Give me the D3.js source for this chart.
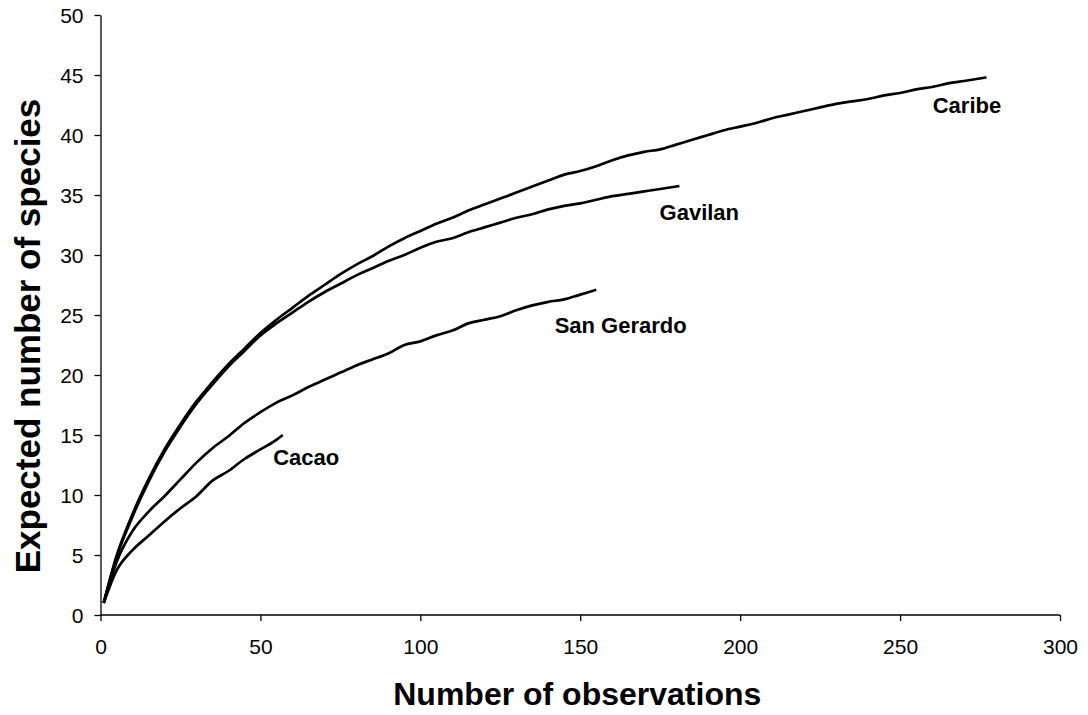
<!DOCTYPE html>
<html>
<head>
<meta charset="utf-8">
<script src="https://cdn.jsdelivr.net/npm/d3@7"></script>
<style>
  body { margin: 0; background: #fff; }
  svg { font-family: Arial, "Liberation Sans", sans-serif; }
  .axis path, .axis line { stroke: #000; stroke-width: 1.3; }
  .axis text { font-size: 21px; fill: #000; }
</style>
</head>
<body>
<div id="chart"></div>
<script>
// Rarefaction curves
const caribeX = [1, 5, 10, 15, 20, 25, 30, 35, 40, 45, 50, 55, 60, 65, 70, 75, 80, 85, 90, 95, 100, 105, 110, 115, 120, 125, 130, 135, 140, 145, 150, 155, 160, 165, 170, 175, 180, 185, 190, 195, 200, 205, 210, 215, 220, 225, 230, 235, 240, 245, 250, 255, 260, 265, 270, 277];
const caribeY = [1, 4.9, 8.4, 11.3, 13.8, 15.9, 17.8, 19.4, 20.9, 22.2, 23.5, 24.6, 25.6, 26.6, 27.5, 28.4, 29.2, 29.9, 30.7, 31.4, 32.0, 32.6, 33.1, 33.7, 34.2, 34.7, 35.2, 35.7, 36.2, 36.7, 37.0, 37.4, 37.9, 38.3, 38.6, 38.8, 39.2, 39.6, 40.0, 40.4, 40.7, 41.0, 41.4, 41.7, 42.0, 42.3, 42.6, 42.8, 43.0, 43.3, 43.5, 43.8, 44.0, 44.3, 44.5, 44.8];

const gavilanX = [1, 5, 10, 15, 20, 25, 30, 35, 40, 45, 50, 55, 60, 65, 70, 75, 80, 85, 90, 95, 100, 105, 110, 115, 120, 125, 130, 135, 140, 145, 150, 155, 160, 165, 170, 175, 181];
const gavilanY = [1, 4.8, 8.2, 11.1, 13.6, 15.7, 17.6, 19.2, 20.7, 22.0, 23.3, 24.3, 25.2, 26.1, 26.9, 27.6, 28.3, 28.9, 29.5, 30.0, 30.6, 31.1, 31.4, 31.9, 32.3, 32.7, 33.1, 33.4, 33.8, 34.1, 34.3, 34.6, 34.9, 35.1, 35.3, 35.5, 35.75];

const sanGerardoX = [1, 5, 10, 15, 20, 25, 30, 35, 40, 45, 50, 55, 60, 65, 70, 75, 80, 85, 90, 95, 100, 105, 110, 115, 120, 125, 130, 135, 140, 145, 150, 155];
const sanGerardoY = [1, 4.4, 7.0, 8.6, 9.9, 11.3, 12.7, 13.9, 14.9, 16.0, 16.9, 17.7, 18.3, 19.0, 19.6, 20.2, 20.8, 21.3, 21.8, 22.5, 22.8, 23.3, 23.7, 24.3, 24.6, 24.9, 25.4, 25.8, 26.1, 26.3, 26.7, 27.1];

const cacaoX = [1, 5, 10, 15, 20, 25, 30, 35, 40, 45, 50, 55, 57];
const cacaoY = [1, 3.7, 5.4, 6.6, 7.8, 8.9, 9.9, 11.2, 12.0, 13.0, 13.8, 14.6, 15.0];

const xTicks = [0, 50, 100, 150, 200, 250, 300];
const yTicks = [0, 5, 10, 15, 20, 25, 30, 35, 40, 45, 50];

const seriesNames = ["Caribe", "Gavilan", "San Gerardo", "Cacao"];
const seriesXs = [caribeX, gavilanX, sanGerardoX, cacaoX];
const seriesYs = [caribeY, gavilanY, sanGerardoY, cacaoY];

// label anchor (start x value, baseline y value)
const labelX = [260.2, 174.8, 142, 54];
const labelY = [41.8, 32.9, 23.5, 12.5];

const xTitle = "Number of observations";
const yTitle = "Expected number of species";

const W = 1088, H = 715;
const margin = { top: 15, right: 28, bottom: 100, left: 100.5 };
const width = W - margin.left - margin.right;
const height = H - margin.top - margin.bottom;

const svg = d3.select("#chart").append("svg")
    .attr("width", W)
    .attr("height", H);

const g = svg.append("g")
    .attr("transform", `translate(${margin.left},${margin.top})`);

const x = d3.scaleLinear().domain([0, 300]).range([0, width]);
const y = d3.scaleLinear().domain([0, 50]).range([height, 0]);

// Axes
g.append("g")
    .attr("class", "axis")
    .attr("transform", `translate(0,${height})`)
    .call(d3.axisBottom(x).tickValues(xTicks).tickSize(6).tickSizeOuter(0).tickPadding(18))
    .select(".domain").attr("d", `M0,0H${width}`);

g.append("g")
    .attr("class", "axis")
    .call(d3.axisLeft(y).tickValues(yTicks).tickSize(6).tickSizeOuter(0).tickPadding(11))
    .selectAll("text").attr("dy", "0.35em");

// Lines
const line = d3.line()
    .x(d => x(d[0]))
    .y(d => y(d[1]))
    .curve(d3.curveMonotoneX);

seriesNames.forEach((name, i) => {
    const pts = seriesXs[i].map((v, j) => [v, seriesYs[i][j]]);
    g.append("path")
        .datum(pts)
        .attr("fill", "none")
        .attr("stroke", "#000")
        .attr("stroke-width", 2.7)
        .attr("stroke-linejoin", "round")
        .attr("d", line);

    g.append("text")
        .attr("x", x(labelX[i]))
        .attr("y", y(labelY[i]))
        .attr("font-size", 22)
        .attr("font-weight", "bold")
        .text(name);
});

// Axis titles
svg.append("text")
    .attr("x", margin.left + width / 2 - 3)
    .attr("y", 705)
    .attr("text-anchor", "middle")
    .attr("font-size", 32)
    .attr("font-weight", "bold")
    .text(xTitle);

svg.append("text")
    .attr("transform", `translate(40,${336}) rotate(-90)`)
    .attr("text-anchor", "middle")
    .attr("font-size", 35)
    .attr("font-weight", "bold")
    .text(yTitle);
</script>
</body>
</html>
